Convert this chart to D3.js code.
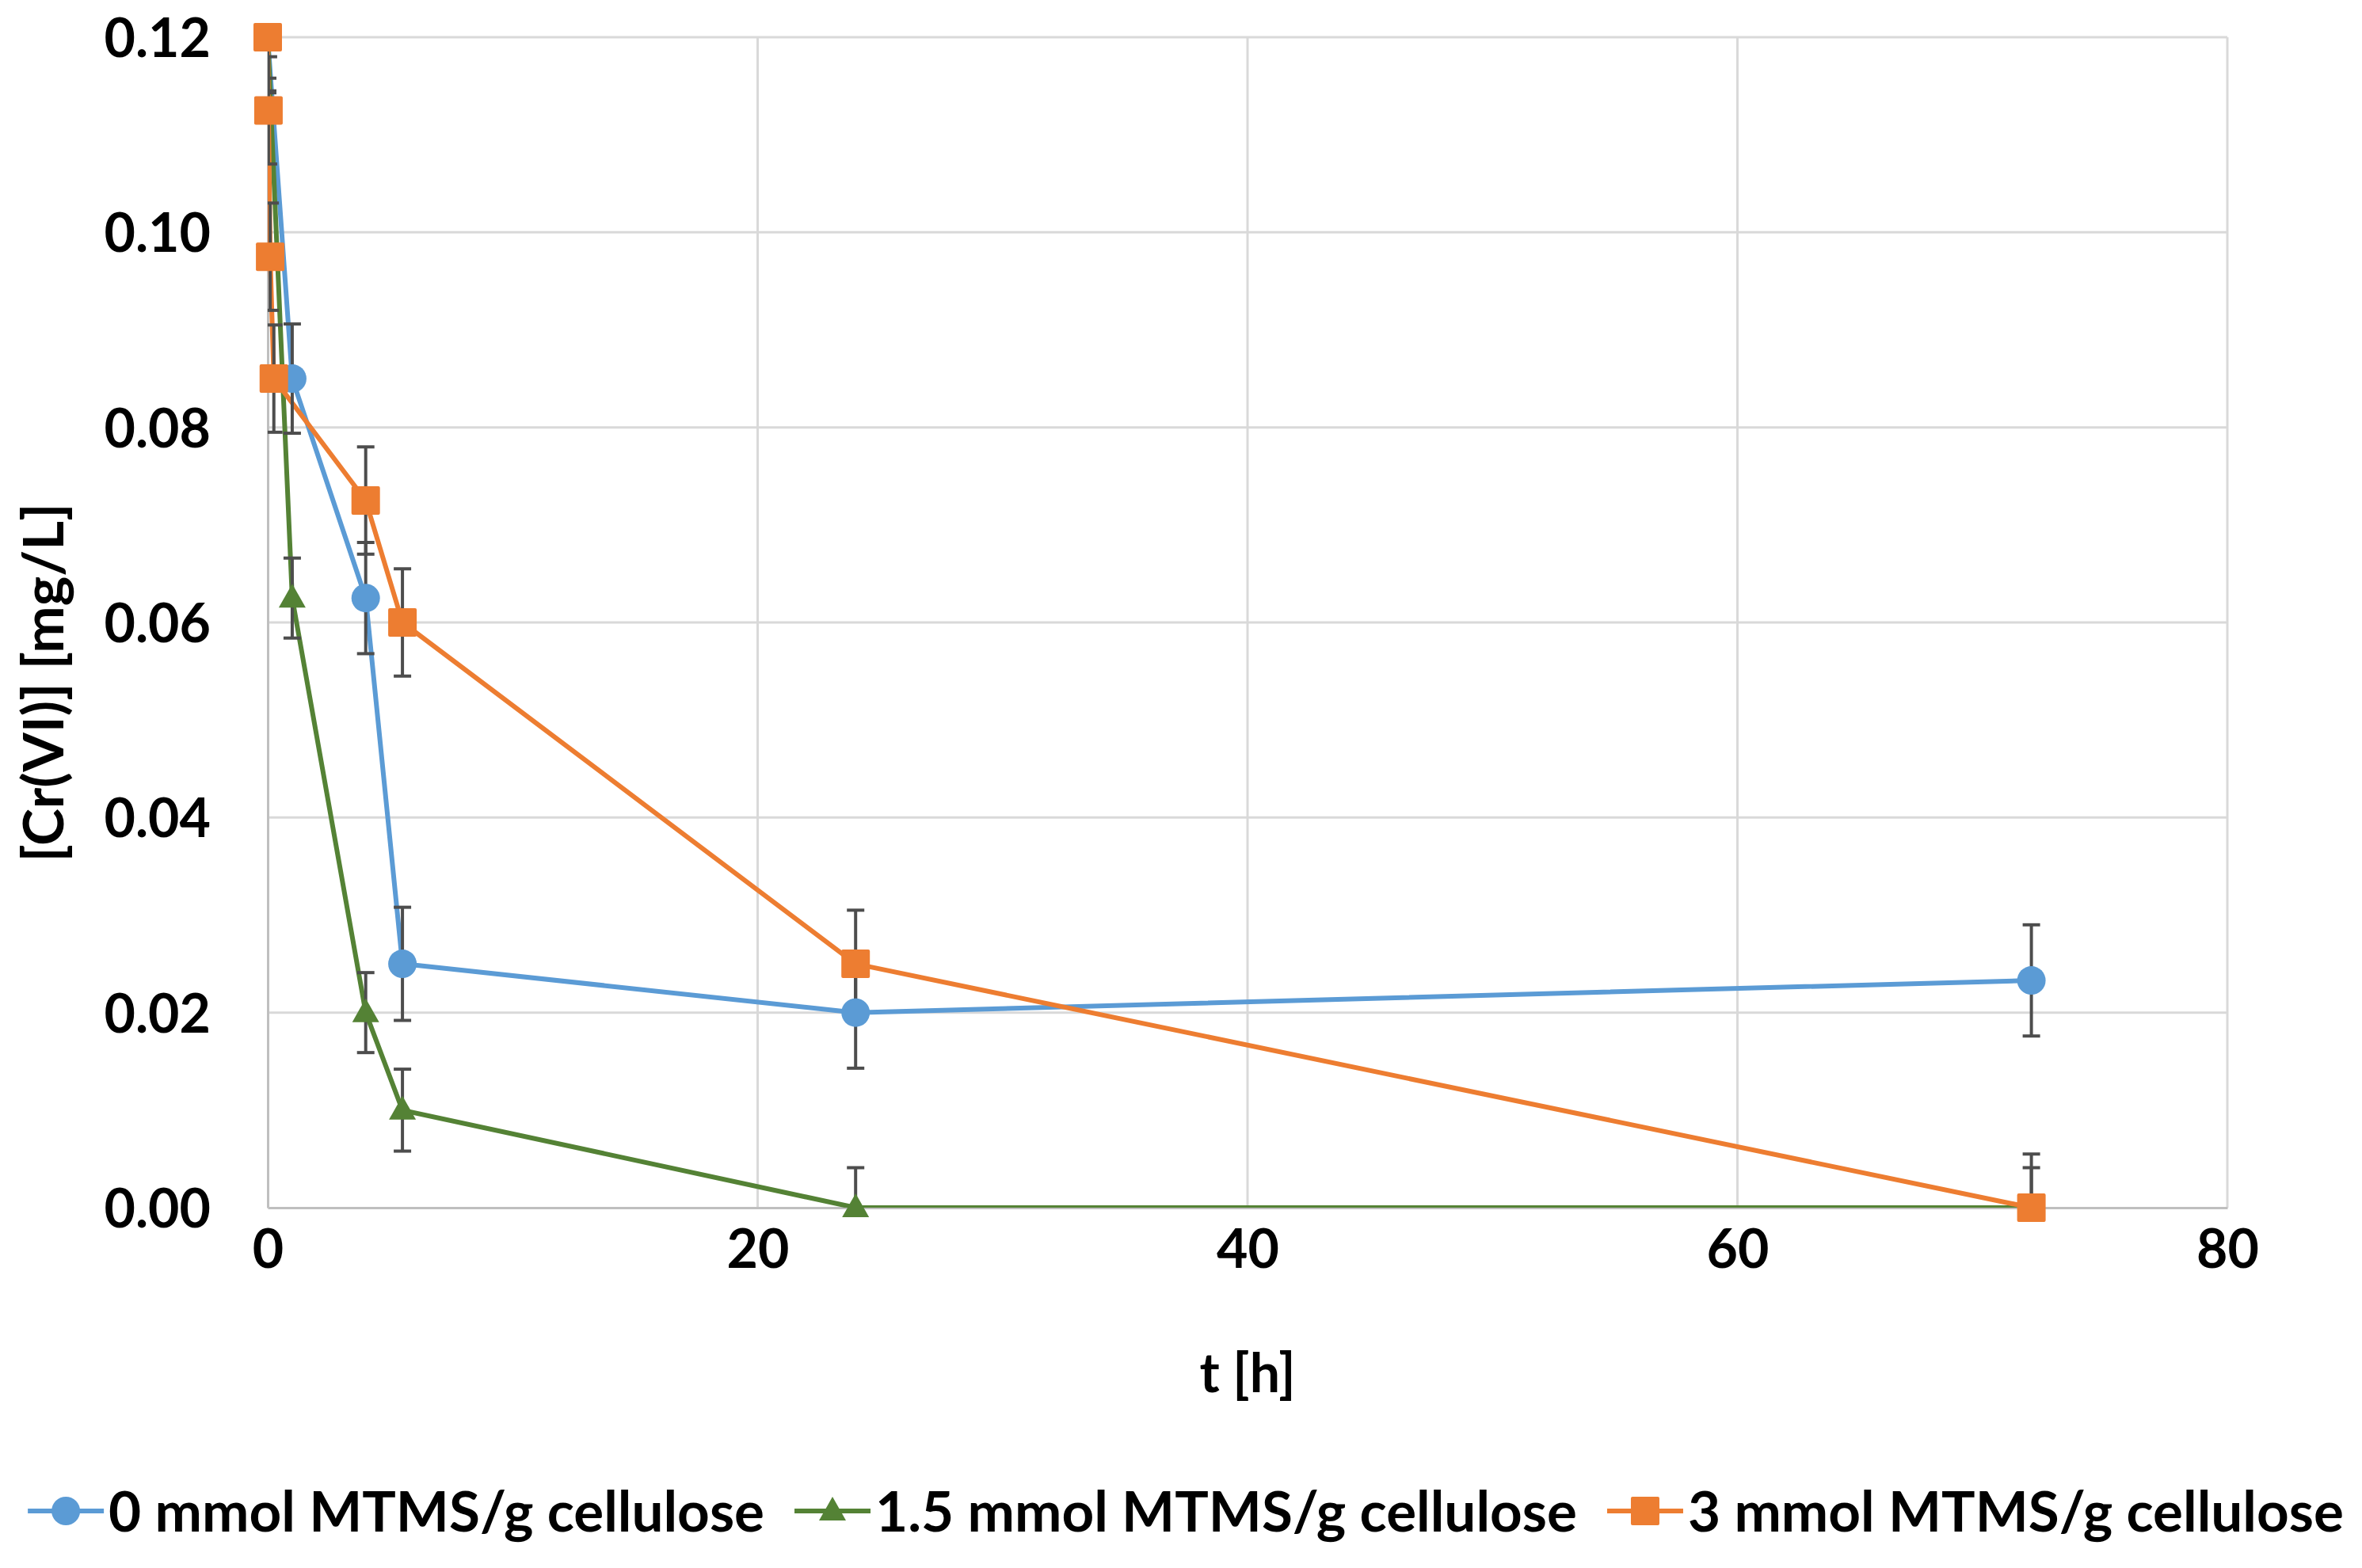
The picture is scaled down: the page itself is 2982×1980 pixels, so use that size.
<!DOCTYPE html>
<html>
<head>
<meta charset="utf-8">
<script src="https://cdn.jsdelivr.net/npm/d3@7"></script>
<style>
  html, body { margin: 0; padding: 0; background: #fff; }
  svg text { font-family: Lato, "Noto Sans", sans-serif; font-weight: 700; fill: #000; }
</style>
</head>
<body>
<svg id="chart" width="2982" height="1980"></svg>
<script>
// series data
const seriesNames = ["0 mmol MTMS/g cellulose", "1.5 mmol MTMS/g cellulose", "3 mmol MTMS/g cellulose"];

const times0 = [0, 1, 4, 5.5, 24, 72];
const conc0  = [0.12, 0.085, 0.0625, 0.025, 0.02, 0.0233];
const err0   = [0.0057, 0.0056, 0.0057, 0.0058, 0.0057, 0.0057];

const times15 = [0, 1, 4, 5.5, 24, 72];
const conc15  = [0.12, 0.0625, 0.02, 0.01, 0, 0];
const err15   = [0.0042, 0.0041, 0.0041, 0.0042, 0.0041, 0.0041];

const times3 = [0, 0.03, 0.1, 0.25, 4, 5.5, 24, 72];
const conc3  = [0.12, 0.1125, 0.0975, 0.085, 0.0725, 0.06, 0.025, 0];
const err3   = [0.0055, 0.0055, 0.0055, 0.0055, 0.0055, 0.0055, 0.0055, 0.0055];

const xTicks = [0, 20, 40, 60, 80];
const yTicks = [0, 0.02, 0.04, 0.06, 0.08, 0.10, 0.12];

const xTitle = "t [h]";
const yTitle = "[Cr(VI)] [mg/L]";

const colors = ["#5B9BD5", "#548235", "#ED7D31"];
const shapes = ["circle", "triangle", "square"];

const series = [
  {t: times0, c: conc0, e: err0},
  {t: times15, c: conc15, e: err15},
  {t: times3, c: conc3, e: err3}
].map((s, i) => ({
  name: seriesNames[i], color: colors[i], shape: shapes[i],
  pts: s.t.map((t, j) => ({t: t, c: s.c[j], e: s.e[j]}))
}));

const svg = d3.select("#chart");
const margin = {left: 338, right: 170, top: 47, bottom: 455};
const W = 2982, H = 1980;

const x = d3.scaleLinear().domain([0, 80]).range([margin.left, W - margin.right]);
const y = d3.scaleLinear().domain([0, 0.12]).range([H - margin.bottom, margin.top]);

svg.append("defs").append("clipPath").attr("id", "plotclip")
  .append("rect")
  .attr("x", x(0)).attr("y", y(0.12))
  .attr("width", x(80) - x(0)).attr("height", y(0) - y(0.12));

// gridlines
const grid = svg.append("g");
grid.selectAll("line.h").data(yTicks.filter(d => d > 0)).join("line")
  .attr("x1", x(0)).attr("x2", x(80))
  .attr("y1", d => y(d)).attr("y2", d => y(d))
  .attr("stroke", "#D9D9D9").attr("stroke-width", 3);
grid.selectAll("line.v").data(xTicks.filter(d => d > 0)).join("line")
  .attr("x1", d => x(d)).attr("x2", d => x(d))
  .attr("y1", y(0)).attr("y2", y(0.12))
  .attr("stroke", "#D9D9D9").attr("stroke-width", 3);

// axes
const xAxis = svg.append("g").attr("transform", `translate(0,${y(0)})`)
  .call(d3.axisBottom(x).tickValues(xTicks).tickSize(0).tickPadding(76).tickFormat(d3.format("d")));
const yAxis = svg.append("g").attr("transform", `translate(${x(0)},0)`)
  .call(d3.axisLeft(y).tickValues(yTicks).tickSize(0).tickPadding(72).tickFormat(d3.format(".2f")));
[xAxis, yAxis].forEach(a => {
  a.select(".domain").attr("stroke", "#BFBFBF").attr("stroke-width", 3);
  a.selectAll("text").attr("font-size", 68).attr("font-family", "Lato, sans-serif").attr("font-weight", 700).attr("fill", "#000");
});
xAxis.selectAll("text").attr("dy", "0");
yAxis.selectAll("text").attr("dy", "0.36em");

// axis titles
svg.append("text").attr("x", (x(0) + x(80)) / 2).attr("y", 1758)
  .attr("text-anchor", "middle").attr("font-size", 68).text(xTitle);
svg.append("text")
  .attr("transform", `translate(80,${862}) rotate(-90)`)
  .attr("text-anchor", "middle").attr("font-size", 71).text(yTitle);

// lines
const line = d3.line().x(d => x(d.t)).y(d => y(d.c));
const plot = svg.append("g").attr("clip-path", "url(#plotclip)");
series.forEach(s => {
  plot.append("path").datum(s.pts)
    .attr("d", line).attr("fill", "none")
    .attr("stroke", s.color).attr("stroke-width", 6)
    .attr("stroke-linejoin", "round");
});

// error bars
const capW = 11;
series.forEach(s => {
  const g = plot.append("g").attr("stroke", "#4D4D4D").attr("stroke-width", 4);
  g.selectAll("line.stem").data(s.pts).join("line")
    .attr("x1", d => x(d.t)).attr("x2", d => x(d.t))
    .attr("y1", d => y(d.c + d.e)).attr("y2", d => y(Math.max(d.c - d.e, -0.01)));
  g.selectAll("line.top").data(s.pts).join("line")
    .attr("x1", d => x(d.t) - capW).attr("x2", d => x(d.t) + capW)
    .attr("y1", d => y(d.c + d.e)).attr("y2", d => y(d.c + d.e));
  g.selectAll("line.bot").data(s.pts.filter(d => d.c - d.e >= 0)).join("line")
    .attr("x1", d => x(d.t) - capW).attr("x2", d => x(d.t) + capW)
    .attr("y1", d => y(d.c - d.e)).attr("y2", d => y(d.c - d.e));
});

// markers
function marker(g, shape, color, cx, cy) {
  if (shape === "circle") {
    g.append("circle").attr("cx", cx).attr("cy", cy).attr("r", 18).attr("fill", color);
  } else if (shape === "square") {
    g.append("rect").attr("x", cx - 18).attr("y", cy - 18).attr("width", 36).attr("height", 36)
      .attr("rx", 2).attr("fill", color);
  } else {
    g.append("path").attr("d", `M${cx},${cy - 18}L${cx + 17},${cy + 12}L${cx - 17},${cy + 12}Z`).attr("fill", color);
  }
}
series.forEach(s => {
  const g = svg.append("g");
  s.pts.forEach(d => marker(g, s.shape, s.color, x(d.t), y(d.c)));
});

// legend
const legY = 1908;
const leg = svg.append("g");
const entries = series.map(s => {
  const g = leg.append("g");
  g.append("line").attr("x1", 0).attr("x2", 96).attr("y1", 0).attr("y2", 0)
    .attr("stroke", s.color).attr("stroke-width", 6);
  marker(g, s.shape, s.color, 48, 0);
  const t = g.append("text").attr("x", 102).attr("y", 0).attr("dy", "0.36em")
    .attr("font-size", 71).text(s.name);
  return {g: g, w: 102 + t.node().getComputedTextLength()};
});
const gap = 38;
const total = d3.sum(entries, e => e.w) + gap * (entries.length - 1);
let lx = 1497 - total / 2;
entries.forEach(e => {
  e.g.attr("transform", `translate(${lx},${legY})`);
  lx += e.w + gap;
});
</script>
</body>
</html>
